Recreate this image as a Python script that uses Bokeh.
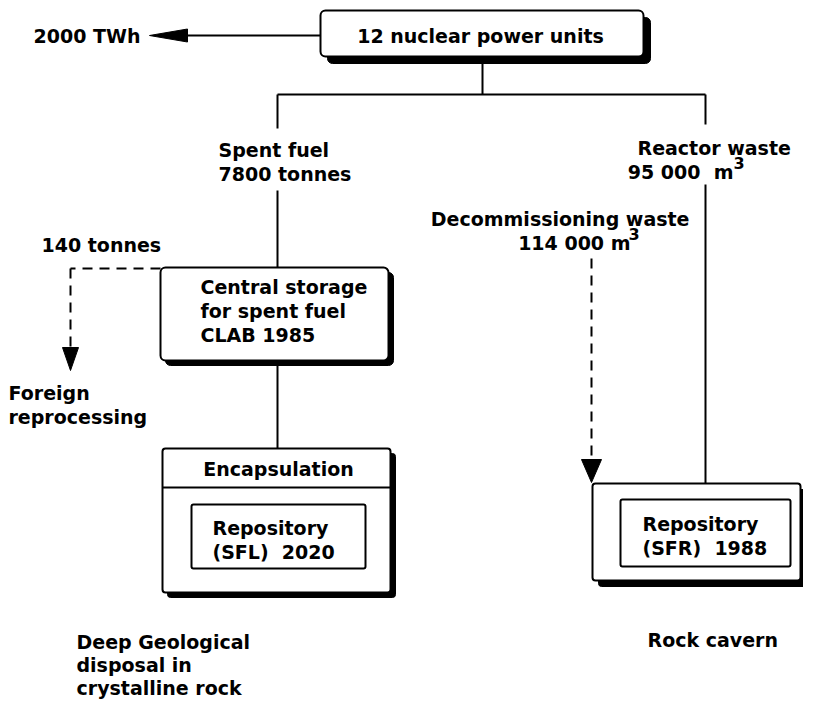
from bokeh.plotting import figure
from bokeh.models import Range1d
from bokeh.core.properties import value
from bokeh.embed import file_html
from bokeh.resources import INLINE

# ---------------- content (texts and quantities of the flow diagram) ----------------
NB = "\u00a0"
source_label = ["12 nuclear power units"]
energy_label = ["2000 TWh"]
spent_fuel_label = ["Spent fuel", "7800 tonnes"]
reactor_waste_label = ["Reactor waste"]
reactor_waste_volume = ["95 000" + NB + " m"]
decom_label = ["Decommissioning waste"]
decom_volume = ["114 000 m"]
volume_exponent = ["3"]
reprocess_amount = ["140 tonnes"]
reprocess_label = ["Foreign", "reprocessing"]
clab_label = ["Central storage", "for spent fuel", "CLAB 1985"]
encap_label = ["Encapsulation"]
sfl_label = ["Repository", "(SFL)" + NB + " 2020"]
sfr_label = ["Repository", "(SFR)" + NB + " 1988"]
sfl_site = ["Deep Geological", "disposal in", "crystalline rock"]
sfr_site = ["Rock cavern"]

FONT = "DejaVu Sans"
FS = "19px"
LINE = 24  # text line spacing (px)

# ---------------- figure: data units == picture pixels ----------------
W, H = 803, 700
p = figure(width=W, height=H, output_backend="svg", toolbar_location=None,
           x_range=Range1d(0, W), y_range=Range1d(H, 0),
           x_axis_location=None, y_axis_location=None,
           min_border=0, outline_line_color=None, background_fill_color="white")
p.grid.visible = False


def box(x0, y0, x1, y1, shadow=0, lw=2, r=5):
    if shadow:
        p.quad(left=x0 + shadow, right=x1 + shadow, top=y0 + shadow, bottom=y1 + shadow,
               fill_color="black", line_color="black", line_width=1, border_radius=r)
    p.quad(left=x0, right=x1, top=y0, bottom=y1, fill_color="white",
           line_color="black", line_width=lw, border_radius=r)


def seg(x0, y0, x1, y1, dash="solid"):
    p.segment(x0=[x0], y0=[y0], x1=[x1], y1=[y1], line_color="black",
              line_width=2, line_dash=dash)


def head(tx, ty, dx, dy, length, half):
    # triangle with tip (tx, ty), pointing along (dx, dy)
    bx, by = tx - dx * length, ty - dy * length
    px, py = -dy * half, dx * half
    p.patch(x=[tx, bx + px, bx - px], y=[ty, by + py, by - py],
            fill_color="black", line_color="black", line_width=1)


def lines(texts, x, y0, align="left", size=FS, step=LINE):
    p.text(x=[x] * len(texts), y=[y0 + i * step for i in range(len(texts))], text=texts,
           text_font=value(FONT), text_font_size=value(size), text_font_style="bold",
           text_align=align, text_baseline="middle", text_color="black")


# ---------------- boxes ----------------
box(320, 10, 643, 56, shadow=7)                 # nuclear power units
box(160, 267, 388, 360, shadow=5)               # CLAB
box(162, 448, 390, 592, shadow=5, r=3)          # encapsulation + SFL
seg(162, 487, 390, 487)
box(191, 504, 365, 568, r=2)                    # SFL inner
box(592, 483, 800, 580, shadow=6, r=3)          # SFR outer
box(620, 499, 790, 566, r=2)                    # SFR inner

# ---------------- connectors ----------------
seg(320, 35, 185, 35)
head(149, 35, -1, 0, 38, 6.5)
seg(482, 62, 482, 94)
seg(277, 94, 705, 94)
seg(277, 94, 277, 128)
seg(277, 190, 277, 267)
seg(705, 94, 705, 124)
seg(705, 184, 705, 483)
seg(277, 362, 277, 448)

# dashed flows
seg(160, 268, 70, 268, dash="10 7")
seg(70, 268, 70, 350, dash="10 7")
head(70, 370, 0, 1, 23, 8)
seg(591, 258, 591, 462, dash="10 7")
head(591, 482, 0, 1, 23, 10)

# ---------------- texts ----------------
lines(energy_label, 33, 35)
lines(source_label, 480, 35, align="center")
lines(spent_fuel_label, 218, 149)
lines(reactor_waste_label, 637, 147)
lines(reactor_waste_volume, 733, 171, align="right")
lines(volume_exponent, 733, 162, size="16px")
lines(decom_label, 689, 218, align="right")
lines(decom_volume, 630, 242, align="right")
lines(volume_exponent, 628, 233, size="16px")
lines(reprocess_amount, 41, 244)
lines(reprocess_label, 8, 392)
lines(clab_label, 200, 286)
lines(encap_label, 278, 468, align="center")
lines(sfl_label, 212, 527)
lines(sfr_label, 642, 523)
lines(sfl_site, 76, 641, step=23)
lines(sfr_site, 647, 639)

open("out.html", "w").write(file_html(p, INLINE))
